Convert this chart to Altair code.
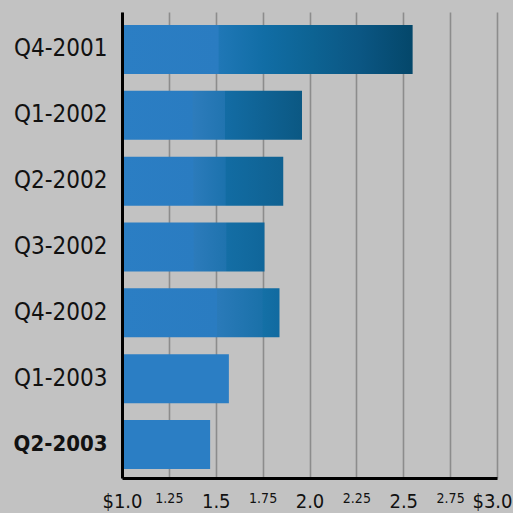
import altair as alt
import pandas as pd

# ---- data ----
quarters = ["Q4-2001", "Q1-2002", "Q2-2002", "Q3-2002", "Q4-2002", "Q1-2003", "Q2-2003"]
prices = [2.55, 1.96, 1.86, 1.76, 1.84, 1.57, 1.47]
tick_values = [1.0, 1.25, 1.5, 1.75, 2.0, 2.25, 2.5, 2.75, 3.0]
tick_labels = ["$1.0", "1.25", "1.5", "1.75", "2.0", "2.25", "2.5", "2.75", "$3.0"]

df = pd.DataFrame({"quarter": quarters, "price": prices})

# ---- styles (gradient fill of each bar) ----
SOLID = "#2b7ec4"
bar_stops = {
    "Q4-2001": [(0, SOLID), (0.33, "#2a7cc1"), (0.335, "#1f77b6"), (0.49, "#116da5"),
                (0.655, "#0d6393"), (0.82, "#0b5683"), (1, "#04476a")],
    "Q1-2002": [(0, SOLID), (0.39, "#2a7cc1"), (0.395, "#2d7cbc"), (0.57, "#2174b0"),
                (0.575, "#136ca4"), (1, "#0b5883")],
    "Q2-2002": [(0, SOLID), (0.44, "#2a7cc1"), (0.445, "#2b7bbb"), (0.64, "#1c72ad"),
                (0.645, "#126ca3"), (1, "#0f6191")],
    "Q3-2002": [(0, SOLID), (0.5, "#2a7cc1"), (0.505, "#2c7bbb"), (0.73, "#1f73ae"),
                (0.735, "#146ea5"), (1, "#10669a")],
    "Q4-2002": [(0, SOLID), (0.6, "#2a7cc1"), (0.605, "#2a7ab9"), (0.89, "#1a71a9"),
                (0.895, "#1470a6"), (1, "#116aa0")],
    "Q1-2003": [(0, SOLID), (1, SOLID)],
    "Q2-2003": [(0, SOLID), (1, SOLID)],
}

FONT = "'DejaVu Sans Condensed', 'DejaVu Sans', sans-serif"

vals_js = "[" + ",".join(str(v) for v in tick_values) + "]"
labs_js = "[" + ",".join("'" + s + "'" for s in tick_labels) + "]"
label_expr = f"{labs_js}[indexof({vals_js}, datum.value)]"

x_enc = alt.X(
    "price:Q",
    scale=alt.Scale(domain=[1.0, 3.0], nice=False, zero=False),
    axis=alt.Axis(
        values=tick_values,
        labelExpr=label_expr,
        title=None,
        grid=True,
        gridColor="#8c8c8c",
        gridWidth=1.6,
        ticks=False,
        domain=True,
        domainColor="#000000",
        domainWidth=3,
        labelFont=FONT,
        labelFontSize={"condition": {"test": "datum.value * 4 % 2 == 1", "value": 14}, "value": 20},
        labelAlign={"condition": {"test": "datum.value == 3", "value": "right"}, "value": "center"},
        labelOffset={"condition": {"test": "datum.value == 3", "value": 15}, "value": 0},
        labelColor="#111111",
        labelPadding=13,
        labelBaseline="top",
        labelFlush=False,
        labelOverlap=False,
        zindex=0,
    ),
)

y_enc = alt.Y(
    "quarter:N",
    sort=quarters,
    scale=alt.Scale(paddingInner=0.256, paddingOuter=0.167, align=0.59),
    axis=alt.Axis(
        title=None,
        grid=False,
        ticks=False,
        domain=True,
        domainColor="#000000",
        domainWidth=3,
        labelFont=FONT,
        labelFontSize={"condition": {"test": "datum.value == 'Q2-2003'", "value": 22}, "value": 24},
        labelFontWeight={"condition": {"test": "datum.value == 'Q2-2003'", "value": "bold"}, "value": "normal"},
        labelColor="#111111",
        labelPadding=15,
        zindex=1,
    ),
)

base = alt.Chart(df).encode(x=x_enc, x2=alt.datum(1.0), y=y_enc)

layers = []
for q in quarters:
    grad = alt.Gradient(
        gradient="linear",
        x1=0, x2=1, y1=0, y2=0,
        stops=[alt.GradientStop(offset=o, color=c) for o, c in bar_stops[q]],
    )
    layers.append(base.transform_filter(alt.datum.quarter == q).mark_bar(color=grad))

chart = alt.layer(*layers).properties(
    width=375,
    height=466,
    background="#c2c2c2",
    padding={"left": 122, "top": 12, "right": 16, "bottom": 35},
    autosize=alt.AutoSizeParams(type="none"),
).configure_view(strokeWidth=0)

chart.save("out.html", embed_options={"renderer": "svg", "actions": False})
